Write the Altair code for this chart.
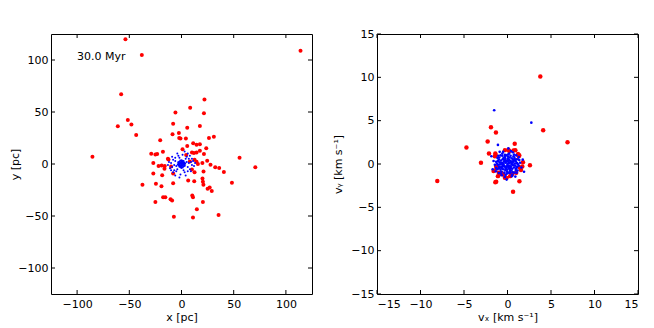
import altair as alt
import pandas as pd

# ---------------- data ----------------
# left panel: positions [pc]
red_x_pc = [-53.7, -38, 114, -57.8, 22, 8.3, -5.8, 21.5, -51.4, -48, -61, -8, 5.5, 17.6,
            -43.4, -2.5, -2.2, 4.2, 26.3, 31, -20.4, 11.2, 14.4, 17.6, 5.5, 23.7, 1, -17.8,
            10, 14.4, 17.6, -29, -25, -23.3, -85.3, 55.6, 70.7, 24.6, 20, 27.8, 32.3, 36.1,
            40.6, -22, -19, -16, -13, -27, -27, 12.5, 11.9, 14.4, -16.3, -18.5, -8, 10, 12.5,
            21.1, 6.4, 12.2, 20.1, 20.5, 21, 25, 27, 29, 48.3, -37.4, -24.5, -19.2, -8,
            -17.6, -15.5, -10.5, -9, -25, 10.3, 11, 20.5, 14.7, -7.3, 11, 35.5,
            4.5, -12.5, 8, 15.7, -10, 21.5, -8.6, -1]
red_y_pc = [120, 104.8, 109, 67, 62, 54, 49.5, 48.9, 42.2, 38, 36.2, 38.7, 34.9, 36.5,
            27.9, 29.8, 25, 24.4, 25, 26.3, 22.9, 20, 18.4, 19, 17.4, 15.2, 14.3, 11.7,
            11, 11, 12.7, 9.8, 9.1, 9.5, 7, 6, -3.2, 3.1, 1, -0.7, -3.2, -3.8,
            -7.6, -2, -1.5, -2, 5, 1, -9.2, 4.1, 10.5, 2.2, -4.5, -10.9, -9.2, -5.4, -8,
            -7.3, -15.9, -16.6, -14, -17, -20, -23.8, -22.5, -26, -18.1, -20, -19, -21.3, -18.5,
            -32, -32, -34, -35, -36.5, -30.3, -32, -36.5, -43.5, -50.8, -51.4, -49,
            8.6, 4.4, 2.5, 0, -2.5, 9.5, 28.6, 24.4]

blue_x_pc = [0, 1, -1, 0.5, -0.5, 2, -2, 1.5, -1.5, 2.5, -2.5, 0.3, -0.3, 3, -3, 1, -1, 3.2,
             -3.2, 2, -2, 0, 0, 1.8, -1.8, 0.8, -0.8, 2.6, -2.6, 1.2, -1.2, 3.6, -3.6, 0.6,
             -0.6, 1.4, -1.4, 2.2, -2.2, 0.2, -0.2,
             5, -5, 6, -6, 4, -4, 7, -7, 2, -2, 8, -8, 5, -5, 9, -9, 3, -3, 10, -10, 6, -6,
             7, -7, 11, -11, 1, -1, 4, -4, 12, -12, 8, -8, 9, -9, 6, -6, 13, -13, 3, -2, 10, -10]
blue_y_pc = [0, 0.5, 0.5, -1, -1.5, 1, -1, -2, 2, -0.5, 0.5, 2.5, -2.8, 1.5, -1.5, 3, -3, -1.8,
             1.8, 2.8, -2.6, 1.2, -0.6, 0, 0, 1.8, -2, 0.6, -0.4, -3.4, 3.4, 0.2, -0.2, -1.8,
             1.6, 1.4, -1.2, -2.2, 2.2, 3.6, -3.8,
             2, -2, -3, 3, 5, -5, 1, -1, -6, 6, -5, 4, 7, -7, 2, -3, -8, 8, -1, 1, -7, 6,
             5, -6, 3, -4, 9, -10, -11, 10, -2, 2, 8, -8, -7, 7, 10, -11, 1, -1, 12, -13, 5, -6]

# right panel: velocities [km/s]
red_vx = [3.77, 4.1, 6.9, -8.07, -4.72, -3.05, -1.9, -1.33, -2.28, -2.13, 0.83, 0.64, 1.37,
          -1.4, -1.3, 2.58, 1.78, 1.7, 1.55, 1.21, 0.9, 0.7, -0.3, 0.1, 0.2, -1.4, -1.45,
          -1.35, -1.3, -1.25, -1.0, -0.85, -0.7, -0.5, -0.3, -0.1, 0.5, 0.55, 1.0, 1.4,
          1.3, 1.35, -1.6, -1.1, 0.3]
red_vy = [10.1, 3.9, 2.5, -1.95, 1.91, 0.15, 4.24, 3.63, 2.6, 1.22, 2.33, -3.2, -1.98,
          -2.1, -2.05, -0.15, 0.2, -0.3, -0.7, 1.15, 1.6, 1.55, 1.6, 1.65, 1.5, 1.2, 0.9,
          1.0, -0.3, -0.5, -1.0, -1.15, -1.05, -1.2, -1.6, -1.6, -1.2, -1.1, -1.0, -0.4,
          0.9, 1.0, -0.8, -1.4, -1.4]

blue_vx = [0, 0.2, -0.2, 0.1, -0.15, 0.4, -0.4, 0.35, -0.3, 0.55, -0.55, 0.05, -0.05, 0.7,
           -0.7, 0.25, -0.25, 0.75, -0.75, 0.5, -0.5, 0, 0, 0.45, -0.45, 0.2, -0.2, 0.6, -0.6,
           0.3, -0.3, 0.85, -0.85, 0.15, -0.15, 0.35, -0.35, 0.55, -0.55, 0.05, -0.05,
           0.95, -0.95, 1.0, -1.0, 0.7, -0.7, 1.1, -1.1, 0.3, -0.3, 1.15, -1.15, 0.8, -0.8,
           1.2, -1.2, 0.2, -0.2, 0.55, -0.6, 1.3, -1.3, 1.0, -1.0, 1.05, -1.05, 0.6, -0.65,
           1.45, -1.45, 0.4, -0.3, 1.3, -1.35, 1.6, -1.6, 0.9, -0.9, 1.75, -1.7, 0.1, -0.1,
           1.9, -1.85, -1.53, 2.74, -1.1,
           0.1, -0.1, 0.65, -0.65, 0.45, -0.45, 0.9, -0.9, 0.15, -0.15, 0.8, -0.8, 1.0, -1.0,
           0.6, -0.6, 0.35, -0.35, 1.1, -1.1, 0.25, -0.25, 0.7, -0.7, 0.5, -0.5, 0.15, -0.4,
           0.4, 0.85, -0.85, 0.25, -0.25, 1.2, -1.2, 0.75, -0.75, 0.95, -0.95, 0.05, -0.05,
           1.35, -1.3, 0.5, -0.5]
blue_vy = [0, 0.1, 0.15, -0.25, -0.3, 0.2, -0.2, -0.45, 0.45, -0.1, 0.1, 0.6, -0.65, 0.35,
           -0.35, 0.75, -0.7, -0.4, 0.4, 0.65, -0.6, 0.3, -0.15, 0, 0, 0.45, -0.5, 0.15, -0.1,
           -0.8, 0.8, 0.05, -0.05, -0.45, 0.4, 0.35, -0.3, -0.55, 0.55, 0.85, -0.9,
           0.3, -0.3, -0.5, 0.5, 0.9, -0.9, 0.1, -0.1, -1.05, 1.05, -0.75, 0.7, -1.0, 1.0,
           0.55, -0.6, 1.2, -1.25, -1.25, 1.2, -0.2, 0.25, 1.0, -1.05, -1.0, 0.95, 1.35, -1.3,
           0.15, -0.1, 1.5, -1.5, 0.8, -0.85, -0.4, 0.35, -1.45, 1.4, 0.5, -0.6, 1.8, -1.8,
           -0.9, 0.9, 6.2, 4.77, 2.2,
           0.5, -0.4, 0.5, -0.45, -0.75, 0.7, -0.2, 0.2, -1.0, 1.0, 0.7, -0.65, 0.55, -0.5,
           -0.95, 0.95, 0.95, -1.0, -0.35, 0.35, -0.2, 0.25, -0.15, 0.15, 0.25, -0.25, 0.2, 0.3,
           -0.3, 0.45, -0.4, -0.6, 0.6, -0.05, 0.05, 1.1, -1.1, -0.7, 0.75, 1.1, -1.1,
           0.45, -0.45, -1.4, 1.4]

pos_ticks = [-100, -50, 0, 50, 100]
vel_ticks = [-15, -10, -5, 0, 5, 10, 15]
label_text = ["30.0 Myr"]
label_x = [-100]
label_y = [103]

# ---------------- chart ----------------
W, H = 261, 260
FONT = "DejaVu Sans"
FS = 11
TL = 4  # inward tick length


def panel(rx, ry, bx, by, dom, ticks, xtitle, ytitle, red_size, blue_size, ytitle_x, text=None):
    red_df = pd.DataFrame({"x": rx, "y": ry})
    blue_df = pd.DataFrame({"x": bx, "y": by})
    tick_df = pd.DataFrame({"t": ticks})
    xs = alt.Scale(domain=dom, nice=False, zero=False)
    ys = alt.Scale(domain=dom, nice=False, zero=False)
    lab = dict(labelFont=FONT, labelFontSize=FS, labelColor="black",
               titleFont=FONT, titleFontSize=FS, titleColor="black", titleFontWeight="normal",
               grid=False, domain=False, ticks=False, values=ticks)
    xax = alt.Axis(orient="bottom", labelPadding=4, title=xtitle, titlePadding=2, **lab)
    yax = alt.Axis(orient="left", labelPadding=3, title=ytitle, titleX=ytitle_x,
                   titleY=H / 2, titleBaseline="middle", **lab)

    red = alt.Chart(red_df).mark_circle(color="#ff0000", size=red_size, opacity=1).encode(
        x=alt.X("x:Q", scale=xs, axis=xax),
        y=alt.Y("y:Q", scale=ys, axis=yax),
    )
    blue = alt.Chart(blue_df).mark_circle(color="#0000ff", size=blue_size, opacity=1).encode(
        x=alt.X("x:Q", scale=xs, axis=xax),
        y=alt.Y("y:Q", scale=ys, axis=yax),
    )
    tbase = alt.Chart(tick_df).mark_rule(color="black", strokeWidth=1)
    t_bottom = tbase.encode(x=alt.X("t:Q", scale=xs, axis=xax),
                            y=alt.value(H), y2=alt.value(H - TL))
    t_top = tbase.encode(x=alt.X("t:Q", scale=xs, axis=xax),
                         y=alt.value(0), y2=alt.value(TL))
    t_left = tbase.encode(y=alt.Y("t:Q", scale=ys, axis=yax),
                          x=alt.value(0), x2=alt.value(TL))
    t_right = tbase.encode(y=alt.Y("t:Q", scale=ys, axis=yax),
                           x=alt.value(W), x2=alt.value(W - TL))
    layers = [red, blue, t_bottom, t_top, t_left, t_right]
    if text is not None:
        tdf = pd.DataFrame({"x": text[0], "y": text[1], "t": text[2]})
        layers.append(
            alt.Chart(tdf).mark_text(align="left", baseline="middle", font=FONT,
                                     fontSize=FS, color="black").encode(
                x=alt.X("x:Q", scale=xs, axis=xax),
                y=alt.Y("y:Q", scale=ys, axis=yax),
                text="t:N",
            )
        )
    return alt.layer(*layers).properties(width=W, height=H)


left = panel(red_x_pc, red_y_pc, blue_x_pc, blue_y_pc, [-125, 125], pos_ticks,
             "x [pc]", "y [pc]", 16, 4, -36, (label_x, label_y, label_text))
right = panel(red_vx, red_vy, blue_vx, blue_vy, [-15, 15], vel_ticks,
              "vₓ [km s⁻¹]", "vᵧ [km s⁻¹]", 20, 7, -39)

chart = alt.hconcat(left, right, spacing=18).properties(
    padding={"left": 0, "top": 19, "right": 0, "bottom": 0},
    background="white",
).configure_view(stroke="black", strokeWidth=1)

chart.save("out.html", embed_options={"renderer": "svg", "actions": False})
